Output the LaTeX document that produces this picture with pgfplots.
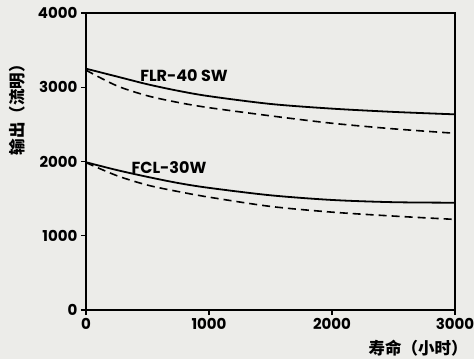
\documentclass[border=0pt]{standalone}
\usepackage{fontspec}
\setmainfont{Poppins}
\newfontfamily\cjk{Noto Sans CJK SC}
\usepackage{pgfplots}
\pgfplotsset{compat=1.18}
\definecolor{paper}{RGB}{236,236,233}
\begin{document}
\begin{tikzpicture}
\path[use as bounding box, fill=paper] (-86pt,-49pt) rectangle (388pt,310pt);
\begin{axis}[
  scale only axis, width=369pt, height=297pt,
  xmin=0, xmax=3000, ymin=0, ymax=4000,
  xtick={0,1000,2000,3000}, ytick={0,1000,2000,3000,4000},
  xtick pos=left, ytick pos=left,
  tick align=outside, major tick length=5pt,
  axis line style={line width=2pt},
  tick style={line width=1.3pt, black},
  ticklabel style={font=\fontsize{15}{15}\selectfont\bfseries},
  /pgf/number format/assume math mode=true,
  /pgf/number format/1000 sep={},
  clip=false,
]
\addplot[black, line width=1.8pt, smooth] coordinates {(0,3250) (250,3145) (500,3040) (750,2952) (1000,2880) (1500,2775) (2000,2712) (2500,2668) (3000,2635)};
\addplot[black, line width=1.6pt, smooth, dash pattern=on 8pt off 5pt] coordinates {(0,3230) (250,3020) (500,2885) (750,2795) (1000,2725) (1500,2615) (2000,2515) (2500,2440) (3000,2380)};
\addplot[black, line width=1.8pt, smooth] coordinates {(0,1990) (250,1885) (500,1793) (750,1710) (1000,1645) (1500,1545) (2000,1482) (2500,1452) (3000,1445)};
\addplot[black, line width=1.6pt, smooth, dash pattern=on 8pt off 5pt] coordinates {(0,1985) (250,1810) (500,1682) (750,1595) (1000,1520) (1500,1395) (2000,1318) (2500,1265) (3000,1220)};
\node[font=\fontsize{16}{16}\selectfont\bfseries] at (axis cs:797,3155) {FLR-40 SW};
\node[font=\fontsize{16}{16}\selectfont\bfseries] at (axis cs:675,1920) {FCL-30W};
\node[font=\cjk\bfseries\fontsize{16.5}{16.5}\selectfont, rotate=90] at (axis cs:-560,2750) {输出（流明）};
\node[font=\cjk\bfseries\fontsize{16.5}{16.5}\selectfont] at (axis cs:2700,-510) {寿命（小时）};
\end{axis}
\end{tikzpicture}
\end{document}
